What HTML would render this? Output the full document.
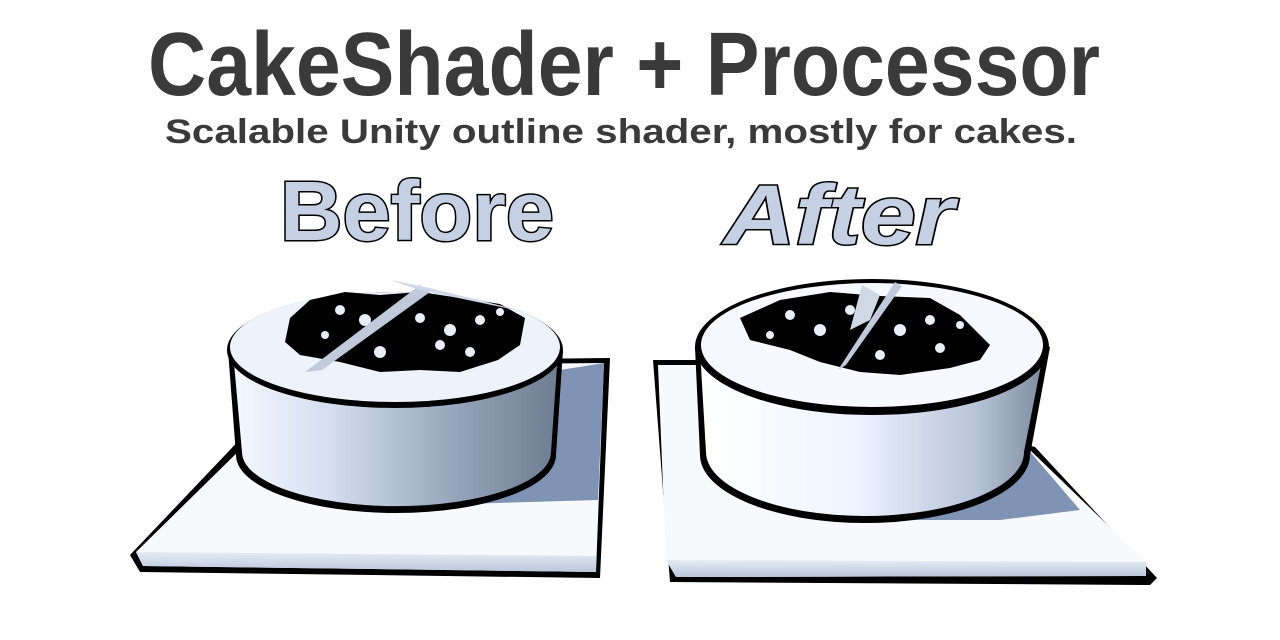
<!DOCTYPE html>
<html><head><meta charset="utf-8"><style>
html,body{margin:0;padding:0;background:#fff;}
svg{display:block;}
</style></head><body>
<svg width="1280" height="640" viewBox="0 0 1280 640" xmlns="http://www.w3.org/2000/svg">
<defs>
<linearGradient id="bodyL" x1="0" x2="1" y1="0" y2="0">
<stop offset="0" stop-color="#f4f8ff"/><stop offset="0.3" stop-color="#d4def0"/><stop offset="0.7" stop-color="#93a2b8"/><stop offset="1" stop-color="#6f7d92"/>
</linearGradient>
<linearGradient id="bodyR" x1="0" x2="1" y1="0" y2="0">
<stop offset="0" stop-color="#ffffff"/><stop offset="0.45" stop-color="#eef4ff"/><stop offset="0.8" stop-color="#b8c4d8"/><stop offset="1" stop-color="#7d8ba0"/>
</linearGradient>
<linearGradient id="plateEdge" x1="0" x2="0" y1="0" y2="1">
<stop offset="0" stop-color="#e6ecf6"/><stop offset="1" stop-color="#b9c6dc"/>
</linearGradient>
</defs>

<text x="148" y="95" font-family="Liberation Sans, sans-serif" font-weight="bold" font-size="90" fill="#3a3a3a" textLength="952" lengthAdjust="spacingAndGlyphs">CakeShader + Processor</text>
<text x="165" y="143" font-family="Liberation Sans, sans-serif" font-weight="bold" font-size="34" fill="#3a3a3a" textLength="912" lengthAdjust="spacingAndGlyphs">Scalable Unity outline shader, mostly for cakes.</text>

<text x="280" y="240" font-family="Liberation Sans, sans-serif" font-weight="bold" font-size="84" fill="#c5d0e4" stroke="#000" stroke-width="3" paint-order="stroke" textLength="274" lengthAdjust="spacingAndGlyphs">Before</text>
<text x="724" y="244" font-family="Liberation Sans, sans-serif" font-weight="bold" font-style="italic" font-size="84" fill="#c5d0e4" stroke="#000" stroke-width="3" paint-order="stroke" textLength="230" lengthAdjust="spacingAndGlyphs">After</text>

<!-- LEFT PLATE -->
<polygon points="247,432 260,362 610,358 600,578 140,572 130,555" fill="#000"/>
<polygon points="250,440 268,366 604,363 596,572 143,566 136,552" fill="#f7f9fc"/>
<polygon points="136,552 596,556 596,572 143,566" fill="url(#plateEdge)"/>
<polygon points="300,470 560,370 604,363 598,500 430,505" fill="#6a82a8" opacity="0.85"/>
<!-- LEFT CAKE -->
<path d="M228,350 L236,455 A160,58 0 0 0 556,455 L563,350 Z" fill="#000"/>
<path d="M233,352 L242,452 A154,54 0 0 0 551,452 L558,352 Z" fill="url(#bodyL)"/>
<ellipse cx="395" cy="350" rx="168" ry="58" fill="#000"/>
<ellipse cx="395" cy="347" rx="165" ry="55" fill="#eef2fa"/>
<path d="M290,318 L310,300 L345,292 L380,295 L420,292 L460,298 L500,304 L525,318 L520,345 L498,360 L460,372 L420,370 L380,372 L340,362 L300,355 L285,342 Z" fill="#000"/>
<g fill="#e8eefa">
<circle cx="340" cy="310" r="5"/><circle cx="365" cy="320" r="6"/><circle cx="420" cy="318" r="5"/><circle cx="450" cy="330" r="6"/><circle cx="480" cy="320" r="5"/><circle cx="380" cy="352" r="6"/><circle cx="440" cy="345" r="5"/><circle cx="325" cy="335" r="4"/><circle cx="500" cy="312" r="4"/><circle cx="470" cy="352" r="5"/>
</g>
<polygon points="305,372 420,285 430,292 322,370" fill="#c0cadb"/>
<polygon points="390,280 420,290 530,313 470,298 430,288" fill="#d0d8e6"/>

<!-- RIGHT PLATE -->
<polygon points="653,360 700,360 1035,447 1157,578 1150,585 670,582" fill="#000"/>
<polygon points="658,365 700,365 1030,450 1146,562 1146,576 676,577 666,560" fill="#f7f9fc"/>
<polygon points="666,560 1146,562 1146,576 676,577" fill="url(#plateEdge)"/>
<polygon points="900,520 1020,440 1080,510 1000,520" fill="#6a82a8" opacity="0.85"/>
<!-- RIGHT CAKE -->
<path d="M695,347 L700,455 A165,68 0 0 0 1030,455 L1050,347 Z" fill="#000"/>
<path d="M700,350 L706,452 A159,64 0 0 0 1024,452 L1044,350 Z" fill="url(#bodyR)"/>
<ellipse cx="872" cy="347" rx="177" ry="68" fill="#000"/>
<ellipse cx="872" cy="345" rx="171" ry="62" fill="#f6f9ff"/>
<path d="M740,318 L780,300 L830,292 L880,296 L930,298 L960,315 L990,345 L980,360 L950,368 L900,375 L860,372 L820,362 L790,350 L750,340 Z" fill="#000"/>
<g fill="#e8eefa">
<circle cx="790" cy="315" r="5"/><circle cx="820" cy="330" r="6"/><circle cx="850" cy="310" r="5"/><circle cx="900" cy="330" r="6"/><circle cx="930" cy="320" r="5"/><circle cx="880" cy="355" r="5"/><circle cx="940" cy="348" r="5"/><circle cx="770" cy="335" r="4"/><circle cx="960" cy="325" r="4"/>
</g>
<polygon points="838,370 895,282 902,286 846,365" fill="#c0cadb"/>
<polygon points="862,285 880,295 870,320 850,330" fill="#d0d8e6"/>
</svg>
</body></html>
